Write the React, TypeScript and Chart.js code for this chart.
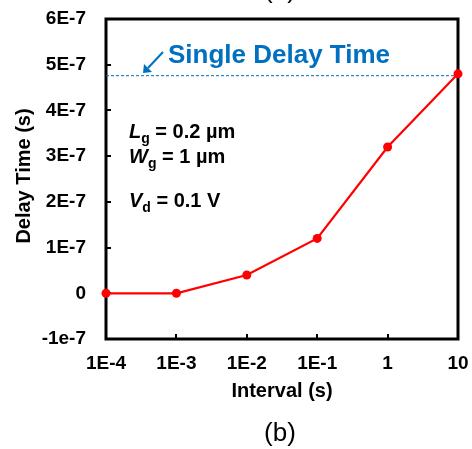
import React, { useEffect, useRef } from "react";
import { Chart, registerables } from "chart.js";
Chart.register(...registerables);

const intervals = [1e-4, 1e-3, 1e-2, 1e-1, 1, 10];
const delayTimes = [0, 0, 4e-8, 1.2e-7, 3.2e-7, 4.8e-7];
const singleDelayTime = 4.76e-7;
const xTickValues = [1e-4, 1e-3, 1e-2, 1e-1, 1, 10];
const xTickLabels = ["1E-4", "1E-3", "1E-2", "1E-1", "1", "10"];
const yTickValues = [-1e-7, 0, 1e-7, 2e-7, 3e-7, 4e-7, 5e-7, 6e-7];
const yTickLabels = ["-1e-7", "0", "1E-7", "2E-7", "3E-7", "4E-7", "5E-7", "6E-7"];

const FAMILY = '"Liberation Sans", Arial, sans-serif';
const BLUE = "#0070C0";

type Part = { t: string; italic?: boolean; sub?: boolean };

function drawRich(ctx: CanvasRenderingContext2D, x: number, y: number, parts: Part[]) {
  let cx = x;
  for (const p of parts) {
    const size = p.sub ? 14 : 20;
    ctx.font = `${p.italic ? "italic " : ""}bold ${size}px ${FAMILY}`;
    ctx.fillText(p.t, cx, p.sub ? y + 5 : y);
    cx += ctx.measureText(p.t).width;
  }
}

const decorPlugin = {
  id: "decor",
  beforeDatasetsDraw(chart: any) {
    const { ctx, chartArea: a, scales } = chart;
    ctx.save();
    ctx.strokeStyle = "#000";
    ctx.lineWidth = 3;
    ctx.strokeRect(a.left, a.top, a.right - a.left, a.bottom - a.top);
    ctx.lineWidth = 2;
    ctx.beginPath();
    for (const v of xTickValues.slice(1, -1)) {
      const px = Math.round(scales.x.getPixelForValue(v));
      ctx.moveTo(px, a.bottom);
      ctx.lineTo(px, a.bottom - 5);
    }
    for (const v of yTickValues.slice(1, -1)) {
      const py = Math.round(scales.y.getPixelForValue(v));
      ctx.moveTo(a.left, py);
      ctx.lineTo(a.left + 5, py);
    }
    ctx.stroke();
    ctx.restore();
  },
  afterDraw(chart: any) {
    const { ctx, chartArea: a } = chart;
    ctx.save();
    ctx.fillStyle = "#000";
    ctx.font = `bold 20px ${FAMILY}`;
    ctx.textAlign = "center";
    ctx.textBaseline = "middle";
    ctx.fillText("Interval (s)", (a.left + a.right) / 2, 391);
    ctx.save();
    ctx.translate(24, 176);
    ctx.rotate(-Math.PI / 2);
    ctx.fillText("Delay Time (s)", 0, 0);
    ctx.restore();
    ctx.font = `26px ${FAMILY}`;
    ctx.textBaseline = "alphabetic";
    ctx.fillText("(b)", 280, 441);
    ctx.fillText("(a)", 280, -2);
    ctx.textAlign = "left";
    drawRich(ctx, 129, 138, [{ t: "L", italic: true }, { t: "g", sub: true }, { t: " = 0.2 µm" }]);
    drawRich(ctx, 129, 163, [{ t: "W", italic: true }, { t: "g", sub: true }, { t: " = 1 µm" }]);
    drawRich(ctx, 129, 207, [{ t: "V", italic: true }, { t: "d", sub: true }, { t: " = 0.1 V" }]);
    ctx.fillStyle = BLUE;
    ctx.strokeStyle = BLUE;
    ctx.font = `bold 26px ${FAMILY}`;
    ctx.fillText("Single Delay Time", 168, 63);
    ctx.lineWidth = 2;
    ctx.beginPath();
    ctx.moveTo(163, 52);
    ctx.lineTo(148, 68);
    ctx.stroke();
    ctx.beginPath();
    ctx.moveTo(143, 73);
    ctx.lineTo(144, 64);
    ctx.lineTo(152, 72);
    ctx.closePath();
    ctx.fill();
    ctx.restore();
  },
};

export default function App() {
  const ref = useRef<HTMLCanvasElement>(null);
  useEffect(() => {
    if (!ref.current) return;
    const tickFont = { family: FAMILY, size: 19, weight: "bold" as const };
    const chart = new Chart(ref.current, {
      type: "line",
      data: {
        datasets: [
          {
            data: intervals.map((x, i) => ({ x, y: delayTimes[i] })),
            borderColor: "#FF0000",
            backgroundColor: "#FF0000",
            borderWidth: 2.2,
            pointRadius: 4.5,
            pointBorderWidth: 0,
            clip: false as any,
          },
          {
            data: [
              { x: xTickValues[0], y: singleDelayTime },
              { x: xTickValues[xTickValues.length - 1], y: singleDelayTime },
            ],
            borderColor: BLUE,
            borderWidth: 1,
            borderDash: [3, 2],
            pointRadius: 0,
          },
        ],
      },
      options: {
        animation: false,
        responsive: false,
        devicePixelRatio: 1,
        layout: { padding: { top: 19, right: 14, left: 0, bottom: 0 } },
        plugins: { legend: { display: false }, tooltip: { enabled: false } },
        scales: {
          x: {
            type: "logarithmic",
            min: 1e-4,
            max: 10,
            grid: { display: false, drawTicks: false },
            border: { display: false },
            afterFit: (s: any) => {
              s.height = 110;
              s.paddingLeft = 0;
              s.paddingRight = 0;
            },
            afterBuildTicks: (s: any) => { s.ticks = xTickValues.map((v) => ({ value: v })); },
            ticks: {
              font: tickFont,
              color: "#000",
              padding: 13,
              maxRotation: 0,
              autoSkip: false,
              callback: (v: any) => xTickLabels[xTickValues.findIndex((t) => Math.abs(t - v) < t * 1e-6)] ?? "",
            },
          },
          y: {
            type: "linear",
            min: -1e-7,
            max: 6e-7,
            grid: { display: false, drawTicks: false },
            border: { display: false },
            afterFit: (s: any) => {
              s.width = 106;
              s.paddingTop = 0;
              s.paddingBottom = 0;
            },
            afterBuildTicks: (s: any) => { s.ticks = yTickValues.map((v) => ({ value: v })); },
            ticks: {
              font: tickFont,
              color: "#000",
              padding: 20,
              autoSkip: false,
              callback: (v: any) => yTickLabels[yTickValues.findIndex((t) => Math.abs(t - v) < 1e-12)] ?? "",
            },
          },
        },
      },
      plugins: [decorPlugin],
    });
    return () => chart.destroy();
  }, []);
  return (
    <div style={{ position: "absolute", left: 0, top: 0, width: 472, height: 449, background: "#fff" }}>
      <canvas ref={ref} width={472} height={449} style={{ width: 472, height: 449 }} />
    </div>
  );
}
